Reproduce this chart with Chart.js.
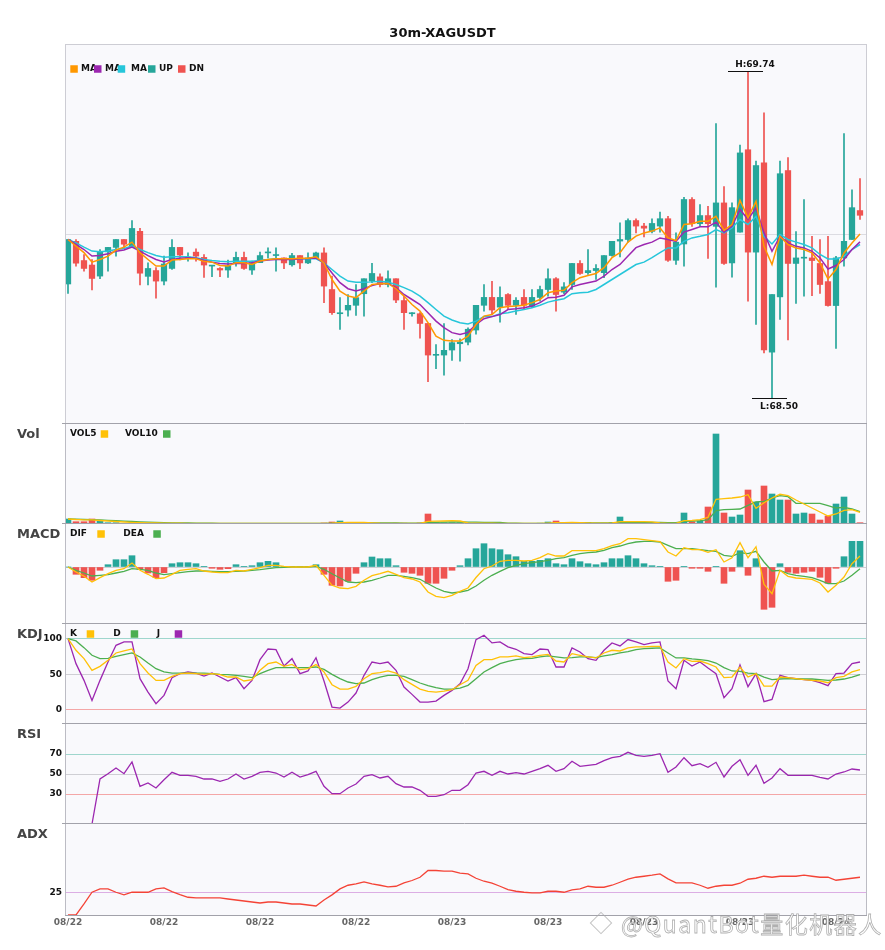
<!DOCTYPE html>
<html>
<head>
<meta charset="utf-8">
<script src="https://cdn.jsdelivr.net/npm/chart.js@4.4.0/dist/chart.umd.min.js"></script>
<style>
  html, body { margin: 0; padding: 0; background: #fff; }
  #wrap { position: relative; width: 885px; height: 950px; overflow: hidden; }
  #wrap canvas { position: absolute; left: 0; }
  .wm { position: absolute; left: 621px; top: 910px; font-family: "Noto Sans CJK SC", "Noto Sans", sans-serif; font-size: 23px; line-height: 26px; letter-spacing: 1.5px; color: rgba(255,255,255,0.9); -webkit-text-stroke: 0.8px rgba(150,150,150,0.75); white-space: nowrap; pointer-events: none; }
  .logo { position: absolute; left: 593px; top: 915px; width: 14px; height: 14px; border: 1.5px solid rgba(170,170,170,0.7); transform: rotate(45deg); }
</style>
</head>
<body>
<div id="wrap">
  <canvas id="cMain"></canvas>
  <canvas id="cVol"></canvas>
  <canvas id="cMacd"></canvas>
  <canvas id="cKdj"></canvas>
  <canvas id="cRsi"></canvas>
  <canvas id="cAdx"></canvas>
  <div class="logo"></div>
  <div class="wm">@QuantBot量化机器人</div>
</div>
<script>
// 30m candles, 08/22 00:00 -> 08/24 01:30
var xTickPos = [0, 12, 24, 36, 48, 60, 72, 84, 96];
var xTickLabels = ['08/22', '08/22', '08/22', '08/22', '08/23', '08/23', '08/23', '08/23', '08/24'];

var open = [68.932, 69.094, 69.021, 69.004, 68.962, 69.054, 69.071, 69.101, 69.072, 69.132,
  68.961, 68.983, 68.943, 68.991, 69.071, 69.029, 69.053, 69.033, 69.000, 68.991,
  68.985, 69.013, 69.033, 68.985, 69.013, 69.050, 69.040, 69.031, 69.005, 69.040,
  69.012, 69.031, 69.050, 68.911, 68.819, 68.833, 68.851, 68.895, 68.943, 68.959,
  68.930, 68.952, 68.869, 68.819, 68.819, 68.782, 68.661, 68.662, 68.681, 68.705,
  68.711, 68.757, 68.851, 68.881, 68.844, 68.892, 68.851, 68.881, 68.846, 68.881,
  68.911, 68.952, 68.901, 68.930, 69.010, 68.975, 68.983, 68.975, 69.040, 69.095,
  69.101, 69.173, 69.152, 69.132, 69.152, 69.180, 69.022, 69.084, 69.253, 69.161,
  69.192, 69.151, 69.240, 69.012, 69.129, 69.442, 69.053, 69.392, 68.673, 68.883,
  69.363, 69.010, 69.030, 69.031, 69.010, 68.941, 68.850, 69.031, 69.101, 69.211];
var high = [69.101, 69.101, 69.044, 69.025, 69.063, 69.071, 69.101, 69.101, 69.173, 69.143,
  69.012, 68.994, 69.038, 69.101, 69.071, 69.050, 69.066, 69.044, 69.002, 68.994,
  69.023, 69.053, 69.053, 69.019, 69.053, 69.069, 69.069, 69.031, 69.048, 69.040,
  69.050, 69.053, 69.069, 68.962, 68.880, 68.892, 68.930, 68.952, 69.010, 68.971,
  68.982, 68.952, 68.886, 68.823, 68.823, 68.782, 68.702, 68.782, 68.721, 68.724,
  68.765, 68.851, 68.930, 68.942, 68.921, 68.896, 68.880, 68.911, 68.911, 68.924,
  68.990, 68.956, 68.937, 69.010, 69.021, 69.063, 69.006, 69.040, 69.094, 69.164,
  69.180, 69.180, 69.162, 69.180, 69.205, 69.189, 69.126, 69.261, 69.260, 69.234,
  69.227, 69.541, 69.302, 69.240, 69.460, 69.740, 69.399, 69.582, 68.892, 69.399,
  69.412, 69.131, 69.253, 69.113, 69.101, 69.113, 69.037, 69.503, 69.290, 69.332];
var low = [68.896, 69.000, 68.981, 68.909, 68.952, 68.981, 69.038, 69.066, 69.070, 68.928,
  68.928, 68.878, 68.928, 68.987, 69.023, 69.019, 69.019, 68.957, 68.960, 68.960,
  68.957, 69.000, 68.987, 68.968, 69.013, 69.031, 68.981, 68.990, 69.000, 68.990,
  69.009, 69.031, 68.861, 68.816, 68.759, 68.810, 68.813, 68.810, 68.937, 68.921,
  68.921, 68.861, 68.759, 68.810, 68.726, 68.561, 68.610, 68.586, 68.642, 68.639,
  68.700, 68.741, 68.829, 68.816, 68.787, 68.835, 68.816, 68.835, 68.842, 68.867,
  68.886, 68.829, 68.895, 68.911, 68.968, 68.968, 68.949, 68.956, 69.038, 69.035,
  69.091, 69.126, 69.111, 69.126, 69.129, 69.018, 69.006, 69.000, 69.151, 69.151,
  69.029, 68.920, 69.006, 68.958, 69.129, 68.867, 68.778, 68.670, 68.500, 68.797,
  68.719, 68.858, 68.886, 68.888, 68.896, 68.848, 68.687, 69.000, 69.101, 69.177];
var close = [69.101, 69.011, 68.991, 68.953, 69.054, 69.071, 69.101, 69.083, 69.143, 68.973,
  68.991, 68.943, 69.008, 69.071, 69.042, 69.034, 69.038, 69.004, 69.002, 68.985,
  69.001, 69.033, 68.991, 69.013, 69.040, 69.052, 69.041, 69.012, 69.040, 69.012,
  69.031, 69.050, 68.924, 68.823, 68.820, 68.851, 68.880, 68.952, 68.972, 68.930,
  68.952, 68.871, 68.823, 68.820, 68.782, 68.662, 68.662, 68.680, 68.709, 68.711,
  68.760, 68.851, 68.881, 68.833, 68.881, 68.851, 68.870, 68.851, 68.881, 68.911,
  68.952, 68.892, 68.921, 69.010, 68.972, 68.983, 68.991, 69.040, 69.094, 69.101,
  69.173, 69.152, 69.144, 69.162, 69.180, 69.022, 69.091, 69.253, 69.161, 69.192,
  69.161, 69.240, 69.010, 69.222, 69.430, 69.053, 69.382, 68.681, 68.892, 69.351,
  69.010, 69.031, 69.031, 69.021, 68.930, 68.850, 69.031, 69.094, 69.222, 69.193];

var ma5 = [69.101, 69.076, 69.051, 69.015, 69.025, 69.038, 69.061, 69.072, 69.091, 69.051,
  69.025, 69.000, 69.000, 69.023, 69.025, 69.028, 69.028, 69.018, 69.015, 69.002,
  69.000, 69.013, 69.013, 69.006, 69.019, 69.025, 69.028, 69.028, 69.028, 69.030,
  69.030, 69.035, 69.012, 68.949, 68.905, 68.886, 68.880, 68.905, 68.930, 68.933,
  68.934, 68.914, 68.886, 68.854, 68.829, 68.785, 68.734, 68.718, 68.715, 68.715,
  68.734, 68.778, 68.810, 68.816, 68.842, 68.846, 68.848, 68.851, 68.861, 68.873,
  68.899, 68.905, 68.908, 68.937, 68.956, 68.964, 68.972, 68.994, 69.032, 69.051,
  69.091, 69.114, 69.126, 69.133, 69.145, 69.107, 69.097, 69.158, 69.161, 69.170,
  69.170, 69.189, 69.136, 69.158, 69.250, 69.183, 69.246, 69.075, 69.006, 69.113,
  69.082, 69.069, 69.063, 69.050, 69.012, 68.951, 68.987, 69.050, 69.088, 69.122];
var ma10 = [69.101, 69.082, 69.063, 69.038, 69.040, 69.047, 69.056, 69.061, 69.072, 69.057,
  69.040, 69.025, 69.016, 69.025, 69.030, 69.032, 69.030, 69.021, 69.015, 69.010,
  69.008, 69.010, 69.010, 69.013, 69.019, 69.023, 69.025, 69.025, 69.025, 69.028,
  69.029, 69.031, 69.012, 68.974, 68.937, 68.914, 68.905, 68.914, 68.926, 68.934,
  68.934, 68.918, 68.892, 68.873, 68.854, 68.823, 68.791, 68.766, 68.747, 68.740,
  68.748, 68.778, 68.800, 68.808, 68.816, 68.835, 68.838, 68.842, 68.848, 68.861,
  68.880, 68.882, 68.889, 68.921, 68.930, 68.937, 68.943, 68.962, 68.987, 69.006,
  69.038, 69.070, 69.082, 69.091, 69.107, 69.101, 69.094, 69.129, 69.139, 69.149,
  69.149, 69.167, 69.129, 69.151, 69.215, 69.177, 69.221, 69.126, 69.056, 69.113,
  69.088, 69.075, 69.069, 69.056, 69.031, 68.989, 69.002, 69.025, 69.063, 69.092];
var ma20 = [69.101, 69.088, 69.072, 69.057, 69.054, 69.057, 69.063, 69.067, 69.076, 69.063,
  69.051, 69.040, 69.034, 69.035, 69.035, 69.035, 69.032, 69.025, 69.021, 69.018,
  69.016, 69.018, 69.018, 69.018, 69.021, 69.025, 69.028, 69.028, 69.028, 69.028,
  69.028, 69.028, 69.012, 68.987, 68.962, 68.943, 68.939, 68.939, 68.940, 68.942,
  68.939, 68.930, 68.918, 68.905, 68.886, 68.861, 68.835, 68.810, 68.795, 68.785,
  68.780, 68.791, 68.808, 68.808, 68.819, 68.823, 68.829, 68.835, 68.842, 68.851,
  68.863, 68.870, 68.876, 68.895, 68.899, 68.901, 68.911, 68.930, 68.949, 68.968,
  68.987, 69.006, 69.015, 69.032, 69.051, 69.069, 69.069, 69.094, 69.107, 69.113,
  69.120, 69.139, 69.126, 69.145, 69.177, 69.158, 69.189, 69.113, 69.084, 69.120,
  69.101, 69.091, 69.082, 69.069, 69.044, 69.027, 69.027, 69.037, 69.063, 69.082];

// volume, relative units
var volume = [5, 2.3, 2.3, 5, 2.7, 1.3, 1.3, 0.7, 1.3, 0.8,
  0.8, 0.8, 0.7, 0.8, 0.6, 0.5, 0.6, 0.7, 0.5, 0.5,
  0.6, 0.6, 0.7, 0.6, 0.6, 0.5, 0.6, 0.5, 0.5, 0.5,
  0.5, 0.5, 1.0, 2.0, 3.0, 1.0, 0.8, 0.8, 0.8, 0.6,
  0.7, 0.8, 0.8, 0.5, 1.0, 10, 1.3, 1.3, 1.3, 1.3,
  0.8, 0.8, 0.7, 0.6, 0.6, 0.5, 0.5, 0.5, 0.5, 0.8,
  2, 3, 0.8, 0.8, 0.5, 1.7, 0.5, 0.8, 1.7, 7,
  1.7, 0.6, 0.6, 0.5, 0.6, 0.7, 0.7, 11, 2.3, 3,
  17, 90, 11, 7, 9, 34, 22, 38, 30, 24,
  24, 10, 11, 10, 4, 8, 20, 27, 10, 1.3];
var vol5 = [5, 4.5, 4.2, 4.1, 3.5, 3, 2.5, 2, 1.6, 1.3,
  1.1, 1, 0.9, 0.8, 0.8, 0.7, 0.7, 0.6, 0.6, 0.6,
  0.6, 0.6, 0.6, 0.6, 0.6, 0.6, 0.6, 0.6, 0.6, 0.5,
  0.5, 0.5, 0.6, 0.9, 1.4, 1.5, 1.6, 1.5, 1.1, 0.8,
  0.7, 0.7, 0.7, 0.7, 0.7, 2.6, 2.8, 3.0, 3.3, 3.0,
  1.2, 0.9, 0.9, 0.8, 0.7, 0.6, 0.6, 0.5, 0.5, 0.6,
  0.9, 1.3, 1.4, 1.5, 1.4, 1.1, 0.9, 0.9, 1.0, 2.3,
  2.3, 2.3, 2.3, 2.1, 1.0, 0.6, 0.6, 3.3, 3.7, 4.3,
  6.7, 24.7, 25.3, 26, 27, 29.3, 15.7, 21.3, 26, 29.7,
  28.3, 24, 20, 16, 12, 8, 10, 13.7, 14.3, 11.7];
var vol10 = [5, 4.8, 4.5, 4.3, 4.1, 3.7, 3.3, 2.9, 2.5, 2.2,
  1.9, 1.6, 1.4, 1.2, 1.1, 1, 0.9, 0.8, 0.8, 0.7,
  0.7, 0.7, 0.7, 0.7, 0.7, 0.6, 0.6, 0.6, 0.6, 0.6,
  0.6, 0.6, 0.6, 0.8, 1.0, 1.0, 1.1, 1.1, 1.1, 1.1,
  1.1, 1.0, 0.9, 0.9, 0.9, 1.6, 1.7, 1.9, 2.0, 2.1,
  1.9, 1.8, 1.7, 1.6, 1.5, 0.9, 0.8, 0.7, 0.6, 0.6,
  0.7, 0.9, 1.0, 1.0, 1.0, 1.0, 1.0, 1.0, 1.2, 1.6,
  1.7, 1.7, 1.7, 1.7, 1.6, 1.4, 1.3, 2.7, 3, 3.3,
  4, 13.3, 14.3, 14.7, 15, 18.7, 22, 22.7, 26, 28.3,
  27.3, 20.7, 20.7, 20.7, 20.7, 18.3, 16, 16.7, 15, 12.3];

// MACD in 1e-3 units
var macdHist = [0, -7.3, -10.7, -13.3, -3.3, 2.3, 7.3, 7.3, 11.3, -2.3,
  -6, -10.7, -5.7, 3.3, 4.3, 4.3, 3.3, 0.3, -1.3, -2.3,
  -1.7, 2.3, 0.3, 1.3, 4.3, 5.7, 4.3, 0.5, 0.2, 0.2,
  0.3, 2.3, -7.3, -18.3, -19, -14.3, -6.3, 4.3, 10, 8.3,
  8.3, 1.3, -5.3, -6.3, -8.3, -16.3, -16.3, -11.3, -3.3, 1.3,
  8.3, 18.3, 23.3, 18.3, 17.3, 12.3, 10.3, 5.7, 5.7, 6.7,
  8.3, 3.3, 2.3, 8.3, 5.3, 3.3, 2.3, 4.3, 8.3, 8.3,
  11.3, 8.3, 3.3, 1.3, 0.3, -14.3, -13.3, 0.3, -1.3, -1.3,
  -4.3, 0.3, -16.3, -4.3, 16.3, -8.3, 8.3, -42.3, -40.3, 3.3,
  -5.3, -6.3, -5.3, -4.3, -10.3, -16.3, -1.3, 10.3, 25.7, 25.7];
var dif = [0, -5, -9.3, -15, -10.7, -6.7, -3.3, -1.7, 4, -3.3,
  -7.3, -11.7, -11, -7.3, -3.3, -2.3, -1.7, -4, -5, -5.7,
  -5.7, -3.3, -4, -2.3, -0.7, 1.7, 1.7, 0.7, 0, 0,
  0, 1.7, -8.3, -18.3, -21, -21.7, -19.3, -13.3, -8.7, -6.7,
  -4.3, -7.3, -10.7, -12, -15, -25, -29.3, -30.7, -28.3, -24.3,
  -21, -10.5, -1.7, 1, 5.7, 6.7, 6.7, 6, 6.7, 9.3,
  13.3, 11, 11, 16.3, 16.3, 16.3, 16.3, 18.3, 21.3, 23.3,
  28.3, 28.3, 27.3, 26.3, 25.3, 15, 11, 19.3, 17.3, 17.3,
  14.7, 17.3, 5, 9.3, 24.3, 9.3, 20.3, -17.3, -26.7, -3.3,
  -9.3, -11, -11.7, -12.3, -16, -25, -18.3, -10, 3.3, 11];
var dea = [0, -3.3, -6, -9, -8.3, -7.7, -6, -4.3, -1.7, -2.3,
  -3.3, -6, -7.7, -6.7, -5.7, -4.7, -4, -4, -4.3, -4.7,
  -4.7, -4.3, -4, -3.3, -2.7, -1.7, -0.7, -0.3, 0, 0,
  0, 0.7, -2.3, -6.7, -11, -15, -15.7, -15, -13.3, -11,
  -8.3, -8.3, -9.3, -10.7, -12.3, -16.7, -21, -24.3, -26, -25,
  -23.3, -19, -13.3, -8.3, -4.3, -0.7, 1.7, 3.3, 4.3, 5.3,
  6.7, 8.3, 9.3, 11.7, 13.3, 14.3, 15, 16.7, 19.3, 21,
  23.3, 25, 25.7, 25.7, 25, 21.7, 18.3, 18.3, 18.3, 17.3,
  16.3, 15.7, 11.7, 10.7, 14.3, 13.3, 15.7, 5, -4, -3.3,
  -6.7, -8.3, -9.3, -10.7, -13.3, -16.7, -16.7, -14, -8.3, -1.7];

var kLine = [100, 83.6, 71.8, 55.4, 61, 69.5, 79.8, 82.6, 85.4, 64.8,
  51.6, 41.3, 41.3, 46.9, 50.7, 51.6, 50.7, 49.8, 50.7, 49.3,
  46, 46, 40.4, 42.3, 55.4, 64.8, 67.1, 61, 63.8, 56.3,
  57.7, 63.4, 53.1, 35.2, 29.1, 29.1, 32.9, 43.7, 50.7, 52.1,
  54.5, 51.6, 42.3, 35.7, 29.1, 25.8, 24.9, 26.3, 28.2, 35.2,
  41.3, 62.4, 70.4, 70.4, 74.2, 74.2, 75.6, 73.2, 74.2, 76.5,
  77.9, 68.5, 67.1, 78.9, 76.5, 74.2, 72.8, 79.8, 83.6, 82.6,
  86.9, 88.3, 88.3, 89.2, 89.2, 67.1, 58.7, 71.8, 68.1, 68.5,
  64.8, 60.1, 45.1, 46, 60.1, 46, 50.7, 33.3, 33.3, 46,
  45.1, 43.7, 42.3, 41.3, 40.4, 38, 45.1, 46.9, 53.1, 56.3];
var dLine = [100, 96.7, 87.3, 76.5, 71.8, 72.3, 75.1, 77.5, 79.8, 74.2,
  65.7, 57.7, 53.1, 51.6, 51.6, 51.6, 51.6, 51.6, 50.7, 49.8,
  49.3, 48.4, 46.9, 45.1, 50.7, 55.4, 59.2, 59.2, 59.2, 59.2,
  59.2, 60.1, 56.8, 49.8, 43.7, 39, 36.6, 37.6, 42.3, 46,
  48.4, 48.4, 46.9, 42.3, 37.6, 33.8, 31, 29.1, 29.1, 30.5,
  34.3, 43.7, 53.1, 59.2, 64.8, 68.1, 70.4, 71.8, 72.3, 74.2,
  75.6, 74.2, 72.8, 73.2, 74.2, 74.2, 73.2, 75.6, 77.5, 79.8,
  81.7, 84.5, 85.9, 86.4, 86.9, 79.8, 72.8, 72.8, 71.4, 70.4,
  69, 65.7, 59.2, 54.5, 54, 51.6, 50.7, 46, 42.3, 43.2,
  43.7, 43.2, 43.2, 43.2, 42.3, 41.3, 41.8, 43.2, 46, 49.3];
var jLine = [100, 64.8, 41.3, 13.1, 41.3, 67.1, 90.6, 95.3, 95.3, 43.7,
  24.9, 8.5, 20.2, 45.1, 50.7, 53.1, 51.6, 47.4, 51.6, 46,
  40.4, 45.1, 29.6, 41.3, 70.4, 85.4, 84.5, 61.5, 71.8, 50.7,
  54.5, 73.2, 40.4, 3.8, 2.3, 10.8, 23.5, 48.4, 67.1, 64.8,
  67.1, 55.4, 31.9, 21.6, 10.8, 10.8, 12.2, 20.2, 27.2, 36.6,
  57.7, 98.6, 104.7, 93.9, 95.3, 88.3, 85, 78.9, 77.5, 85.4,
  84.5, 60.1, 60.1, 86.9, 81.2, 71.8, 69.5, 83.6, 93.9, 89.7,
  98.6, 95.3, 91.5, 93.9, 95.3, 40.4, 29.6, 69.5, 61.5, 67.1,
  58.7, 50.7, 16.9, 29.6, 62.9, 32.4, 50.7, 11.3, 14.6, 48.4,
  45.1, 43.7, 42.3, 41.3, 38, 33.8, 50.7, 51.6, 64.8, 67.1];

var rsi = [null, null, null, 0, 45, 50.3, 56, 50.3, 62, 37.7,
  41, 36, 44.3, 51.7, 48.7, 48.7, 47.7, 45, 45, 42.7,
  45, 50, 45, 47.7, 51.7, 52.7, 51, 47, 51.7, 47,
  49.3, 52.7, 37.7, 30.3, 30.3, 36, 40, 47.7, 49.3, 46,
  47.7, 40.3, 37, 37, 33.7, 27.7, 27.7, 29.3, 33.7, 33.7,
  39.3, 51, 52.7, 48.7, 52.7, 50, 51.3, 50, 52.7, 55.3,
  58.7, 52.7, 55.3, 62.7, 57.7, 58.7, 59.7, 63.3, 66.3, 67.7,
  71.7, 68.7, 67.7, 68.7, 70.3, 51.7, 57, 66.3, 58.3, 60.3,
  56.7, 61.7, 47, 57.7, 64.3, 48.7, 58.7, 40.7, 46, 55.3,
  48.7, 48.7, 48.7, 48.7, 46.7, 45, 50, 52, 55, 54];

var adx = [0, 0, 12.1, 25, 28.7, 28.7, 25, 22.1, 25, 25,
  25, 28.7, 29.8, 25.7, 22.4, 19.5, 18.8, 18.8, 18.8, 18.8,
  17.6, 16.5, 15.4, 14.3, 13.2, 14.3, 14.3, 13.2, 12.1, 12.1,
  11, 9.9, 16.5, 22.1, 28.7, 32.7, 34.2, 36.4, 34.2, 32.7,
  30.9, 31.6, 35.3, 37.9, 41.5, 48.9, 48.9, 48.2, 48.2, 46,
  45.2, 40.4, 37.1, 34.9, 31.6, 27.9, 26.1, 25, 24.3, 24.3,
  26.1, 26.1, 25, 27.6, 28.7, 31.6, 30.5, 30.5, 32.7, 36,
  39.3, 41.5, 42.6, 43.8, 45.2, 39.7, 35.3, 35.3, 35.3, 32.7,
  29.4, 31.6, 32.7, 32.7, 34.9, 39.3, 40.4, 42.6, 41.5, 42.6,
  42.6, 42.6, 43.8, 42.6, 41.5, 41.5, 38.2, 39.3, 40.4, 41.5];

var UP = '#26a69a', DN = '#ef5350';
var C_YEL = '#ffc107', C_GRN = '#4caf50', C_PUR = '#9c27b0';
var FONT = '"DejaVu Sans", "Liberation Sans", sans-serif';
var PAD = 12;

var idx = open.map(function (v, i) { return i; });
var dirCol = open.map(function (o, i) { return close[i] >= o ? UP : DN; });
function pts(arr) { return arr.map(function (v, i) { return { x: i, y: v }; }); }

function place(id, top, height) {
  var c = document.getElementById(id);
  c.width = 885;
  c.height = height;
  c.style.top = top + 'px';
  return c;
}

function xAxis(show) {
  return {
    type: 'linear', min: -0.25, max: 99.75, offset: false, display: show,
    afterBuildTicks: function (s) { s.ticks = xTickPos.map(function (v) { return { value: v }; }); },
    ticks: {
      autoSkip: false, maxRotation: 0, padding: 2, color: '#666',
      font: { family: FONT, size: 9, weight: 'bold' },
      callback: function (v, i) { return xTickLabels[i]; }
    },
    grid: { display: false, drawTicks: false, tickLength: 0, offset: false },
    border: { display: false }
  };
}

function yAxis(min, max, ticks, colors, labels) {
  return {
    type: 'linear', min: min, max: max,
    afterFit: function (s) { s.width = 66; },
    afterBuildTicks: function (s) { s.ticks = ticks.map(function (v) { return { value: v }; }); },
    ticks: { display: labels, padding: 4, color: '#111', font: { family: FONT, size: 9, weight: 'bold' } },
    grid: { drawTicks: false, color: function (c) { return colors[ticks.indexOf(c.tick.value)] || 'transparent'; } },
    border: { display: false }
  };
}

function options(padTop, padBottom, x, y) {
  return {
    responsive: false, animation: false, events: [],
    layout: { padding: { top: padTop, bottom: padBottom, left: 0, right: 19 } },
    plugins: { legend: { display: false }, tooltip: { enabled: false } },
    scales: { x: x, y: y }
  };
}

function line(data, color, width, order) {
  return { type: 'line', data: pts(data), borderColor: color, borderWidth: width, pointRadius: 0, tension: 0, order: order };
}

// background, frame, panel name and legend for one panel
function deco(cfg) {
  return {
    id: 'deco',
    beforeDraw: function (chart) {
      var a = chart.chartArea, g = chart.ctx;
      g.save();
      g.fillStyle = '#f9f9fc';
      g.fillRect(a.left, a.top, a.right - a.left, a.bottom - a.top);
      g.restore();
    },
    afterDraw: function (chart) {
      var a = chart.chartArea, g = chart.ctx, oy = cfg.top;
      g.save();
      g.lineWidth = 1;
      g.strokeStyle = cfg.main ? '#cdcdd4' : '#bcbcc4';
      g.beginPath();
      g.moveTo(a.left - 0.5, a.top); g.lineTo(a.left - 0.5, a.bottom);
      g.moveTo(a.right + 0.5, a.top); g.lineTo(a.right + 0.5, a.bottom);
      if (cfg.main) { g.moveTo(a.left - 1, a.top - 0.5); g.lineTo(a.right + 1, a.top - 0.5); }
      g.stroke();
      if (!cfg.main) {
        g.strokeStyle = '#a2a2aa';
        g.beginPath();
        g.moveTo(62, a.top - 0.5); g.lineTo(a.right + 1, a.top - 0.5);
        if (cfg.last) { g.moveTo(a.left - 1, a.bottom + 0.5); g.lineTo(a.right + 1, a.bottom + 0.5); }
        g.stroke();
      }
      g.textBaseline = 'middle';
      g.textAlign = 'left';
      if (cfg.title) {
        g.font = 'bold 13px ' + FONT;
        g.fillStyle = '#111';
        g.textAlign = 'center';
        g.fillText(cfg.title, 442.5, 34 - oy);
        g.textAlign = 'left';
      }
      if (cfg.label) {
        g.font = 'bold 13px ' + FONT;
        g.fillStyle = '#444';
        g.fillText(cfg.label, 17, cfg.labelY - oy);
      }
      g.font = 'bold 9px ' + FONT;
      (cfg.legend || []).forEach(function (it) {
        var ly = cfg.legendY - oy;
        g.fillStyle = it.c;
        g.fillRect(it.bx, ly - 3.75, 7.5, 7.5);
        g.fillStyle = '#111';
        g.fillText(it.t, it.tx, ly);
      });
      if (cfg.extremes) {
        var xs = chart.scales.x, ys = chart.scales.y;
        var hi = Math.max.apply(null, high), lo = Math.min.apply(null, low);
        var hx = xs.getPixelForValue(high.indexOf(hi)), hy = ys.getPixelForValue(hi);
        var lx = xs.getPixelForValue(low.indexOf(lo)), lyy = ys.getPixelForValue(lo);
        g.strokeStyle = '#111';
        g.beginPath();
        g.moveTo(hx - 20, Math.round(hy) + 0.5); g.lineTo(hx + 15, Math.round(hy) + 0.5);
        g.moveTo(lx - 20, Math.round(lyy) + 0.5); g.lineTo(lx + 15, Math.round(lyy) + 0.5);
        g.stroke();
        g.fillStyle = '#111';
        g.textAlign = 'center';
        g.fillText('H:' + hi.toFixed(2), hx + 7, hy - 7);
        g.fillText('L:' + lo.toFixed(2), lx + 7, lyy + 8.5);
      }
      g.restore();
    }
  };
}

// price panel
new Chart(place('cMain', 0, 424 + PAD), {
  type: 'bar',
  data: {
    datasets: [
      line(ma5, '#ff9800', 1.5, 0),
      line(ma10, C_PUR, 1.5, 1),
      line(ma20, '#26c6da', 1.5, 2),
      { type: 'bar', data: idx.map(function (i) { return { x: i, y: [open[i], close[i]] }; }),
        backgroundColor: dirCol, barThickness: 5.6, minBarLength: 1, grouped: false, order: 3 },
      { type: 'bar', data: idx.map(function (i) { return { x: i, y: [low[i], high[i]] }; }),
        backgroundColor: dirCol, barThickness: 1, grouped: false, order: 4 }
    ]
  },
  options: options(45, PAD, xAxis(false), yAxis(68.40, 69.84, [69.12], ['#dcdce2'], false)),
  plugins: [deco({
    top: 0, main: true, title: '30m-XAGUSDT', extremes: true, legendY: 69,
    legend: [
      { t: 'MA', tx: 81, bx: 70.3, c: '#ff9800' },
      { t: 'MA', tx: 105, bx: 94, c: C_PUR },
      { t: 'MA', tx: 131, bx: 117.7, c: '#26c6da' },
      { t: 'UP', tx: 159, bx: 148, c: UP },
      { t: 'DN', tx: 189, bx: 178, c: DN }
    ]
  })]
});

// volume panel
new Chart(place('cVol', 424 - PAD, 100 + 2 * PAD), {
  type: 'bar',
  data: {
    datasets: [
      line(vol5, C_YEL, 1.3, 0),
      line(vol10, C_GRN, 1.3, 1),
      { type: 'bar', data: pts(volume), backgroundColor: dirCol, barThickness: 6, grouped: false, order: 2 }
    ]
  },
  options: options(PAD, PAD, xAxis(false), yAxis(0, 100, [], [], false)),
  plugins: [deco({
    top: 424 - PAD, label: 'Vol', labelY: 434.5, legendY: 434,
    legend: [
      { t: 'VOL5', tx: 70, bx: 100.7, c: C_YEL },
      { t: 'VOL10', tx: 125, bx: 163, c: C_GRN }
    ]
  })]
});

// MACD panel
new Chart(place('cMacd', 524 - PAD, 100 + 2 * PAD), {
  type: 'bar',
  data: {
    datasets: [
      line(dif, C_YEL, 1.3, 0),
      line(dea, C_GRN, 1.3, 1),
      { type: 'bar', data: pts(macdHist), barThickness: 6, grouped: false, order: 2,
        backgroundColor: macdHist.map(function (v) { return v >= 0 ? UP : DN; }) }
    ]
  },
  options: options(PAD, PAD, xAxis(false), yAxis(-57, 43, [0], ['#cfcfd4'], false)),
  plugins: [deco({
    top: 524 - PAD, label: 'MACD', labelY: 534.5, legendY: 534,
    legend: [
      { t: 'DIF', tx: 70, bx: 97.3, c: C_YEL },
      { t: 'DEA', tx: 123.3, bx: 153.3, c: C_GRN }
    ]
  })]
});

// KDJ panel
new Chart(place('cKdj', 624 - PAD, 100 + 2 * PAD), {
  type: 'line',
  data: {
    datasets: [
      line(jLine, C_PUR, 1.3, 2),
      line(dLine, C_GRN, 1.3, 1),
      line(kLine, C_YEL, 1.3, 0)
    ]
  },
  options: options(PAD, PAD, xAxis(false), yAxis(-20, 120.5, [0, 50, 100], ['#f4a7a7', '#cfcfd4', '#9fd6cd'], true)),
  plugins: [deco({
    top: 624 - PAD, label: 'KDJ', labelY: 635, legendY: 634,
    legend: [
      { t: 'K', tx: 70, bx: 86.7, c: C_YEL },
      { t: 'D', tx: 113.3, bx: 130.7, c: C_GRN },
      { t: 'J', tx: 156.7, bx: 174.7, c: C_PUR }
    ]
  })]
});

// RSI panel
new Chart(place('cRsi', 724 - PAD, 100 + 2 * PAD), {
  type: 'line',
  data: { datasets: [line(rsi, C_PUR, 1.3, 0)] },
  options: options(PAD, PAD, xAxis(false), yAxis(0, 100, [30, 50, 70], ['#f4a7a7', '#cfcfd4', '#9fd6cd'], true)),
  plugins: [deco({ top: 724 - PAD, label: 'RSI', labelY: 734.5 })]
});

// ADX panel with the date axis
new Chart(place('cAdx', 824 - PAD, 950 - 824 + PAD), {
  type: 'line',
  data: { datasets: [line(adx, '#f44336', 1.3, 0)] },
  options: options(PAD, 20.2, xAxis(true), yAxis(0, 100, [25], ['#dcaee4'], true)),
  plugins: [deco({ top: 824 - PAD, label: 'ADX', labelY: 834.5, last: true })]
});
</script>
</body>
</html>
